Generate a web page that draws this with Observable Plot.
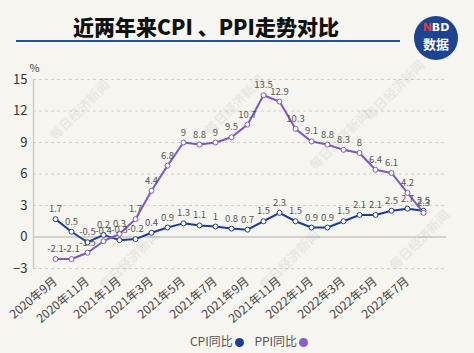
<!DOCTYPE html>
<html><head><meta charset="utf-8">
<script src="https://cdn.jsdelivr.net/npm/d3@7"></script>
<script src="https://cdn.jsdelivr.net/npm/@observablehq/plot@0.6"></script>
<style>
body{margin:0;background:#f7f5f0;}
#wrap{position:relative;width:474px;height:353px;overflow:hidden;background:#f7f5f0;font-family:"Noto Sans CJK SC","Noto Sans",sans-serif;}
#title{position:absolute;left:0;width:412px;top:11px;text-align:center;font-size:21px;font-weight:900;color:#111;}
#uline{position:absolute;left:16px;width:384px;top:40px;height:2px;background:#2c4f9a;}
#logo{position:absolute;left:414px;top:16px;width:44px;height:44px;border-radius:50%;background:#1d4391;color:#fff;text-align:center;font-weight:bold;}
#logo .a{position:absolute;left:0;right:0;top:6px;font-size:11px;line-height:12px;font-family:"DejaVu Sans",sans-serif;}
#logo .b{position:absolute;left:0;right:0;top:20px;font-size:13px;line-height:15px;}
#legend{position:absolute;top:332px;left:12px;width:474px;text-align:center;font-size:12px;color:#555;}
#legend span.d{display:inline-block;width:9px;height:9px;border-radius:50%;vertical-align:-1px;margin-left:2px;}
.wm{position:absolute;font-size:13px;color:#000;opacity:0.05;transform:rotate(-45deg);white-space:nowrap;font-weight:bold;}
#plot{position:absolute;left:0;top:0;}
</style></head><body><div id="wrap">
<div id="plot"></div>
<div id="title">近两年来CPI 、PPI走势对比</div>
<div id="uline"></div>
<div id="logo"><div class="a"><span style="color:#e23a3a">N</span>BD</div><div class="b">数据</div></div>
<div id="legend">CPI同比<span class="d" style="background:#1f3d94"></span>&nbsp;&nbsp;&nbsp;&nbsp;PPI同比<span class="d" style="background:#8a5ccc"></span></div>
</div>
<script>
const months = ["2020年9月","2020年10月","2020年11月","2020年12月","2021年1月","2021年2月","2021年3月","2021年4月","2021年5月","2021年6月","2021年7月","2021年8月","2021年9月","2021年10月","2021年11月","2021年12月","2022年1月","2022年2月","2022年3月","2022年4月","2022年5月","2022年6月","2022年7月","2022年8月"];
const cpi = [1.7,0.5,-0.5,0.2,-0.3,-0.2,0.4,0.9,1.3,1.1,1,0.8,0.7,1.5,2.3,1.5,0.9,0.9,1.5,2.1,2.1,2.5,2.7,2.5];
const ppi = [-2.1,-2.1,-1.5,-0.4,0.3,1.7,4.4,6.8,9,8.8,9,9.5,10.7,13.5,12.9,10.3,9.1,8.8,8.3,8,6.4,6.1,4.2,2.3];
const seriesNames = ["CPI同比","PPI同比"];
const seriesColors = ["#1f3d94","#7d58c4"];
const yTicks = [-3,0,3,6,9,12,15];
const xTickLabels = months.filter((d,i)=>i%2===0);

const data = [];
seriesNames.forEach((s,k)=>{
  const vals = k===0 ? cpi : ppi;
  months.forEach((m,i)=>data.push({month:m, series:s, value:vals[i]}));
});

const chart = Plot.plot({
  width:474, height:353,
  marginLeft:33, marginRight:28, marginTop:79, marginBottom:85,
  style:{background:"transparent", fontFamily:"'Noto Sans CJK SC','Noto Sans',sans-serif", overflow:"visible"},
  x:{type:"point", domain:months, range:[41,437]},
  y:{domain:[-3,15]},
  color:{domain:seriesNames, range:seriesColors},
  marks:[
    Plot.ruleY(yTicks.filter(d=>d!==0), {stroke:"#d2d0cc", strokeDasharray:"3,3"}),
    Plot.ruleY([0], {stroke:"#c6c4c0", strokeWidth:1.5}),
    Plot.frame({anchor:"left", stroke:"#cfcdc9", strokeWidth:1.5}),
    Plot.axisY({ticks:yTicks, tickSize:0, tickPadding:6, fontSize:13, fill:"#333", label:null}),
    Plot.text(["%"], {frameAnchor:"top-left", dx:-4, dy:-15, fontSize:11, fill:"#444"}),
    Plot.axisX({ticks:xTickLabels, tickSize:0, tickRotate:-40, tickPadding:11, fontSize:12, fill:"#444", label:null}),
    Plot.lineY(data, {x:"month", y:"value", z:"series", stroke:"series", strokeWidth:2}),
    Plot.dot(data, {x:"month", y:"value", stroke:"series", fill:"#fff", r:2.5, strokeWidth:1}),
    Plot.text(data, {x:"month", y:"value", text:d=>String(d.value), dy:-10, fontSize:9.5, fill:"#555"})
  ]
});
document.getElementById("plot").appendChild(chart);

const wmPos = [[40,100],[195,95],[355,80],[90,250],[250,250],[380,230],[300,130]];
const wrap = document.getElementById("wrap");
wmPos.forEach(([x,y])=>{
  const d=document.createElement("div");d.className="wm";d.textContent="每日经济新闻";
  d.style.left=x+"px";d.style.top=y+"px";wrap.appendChild(d);
});
</script>
</body></html>
